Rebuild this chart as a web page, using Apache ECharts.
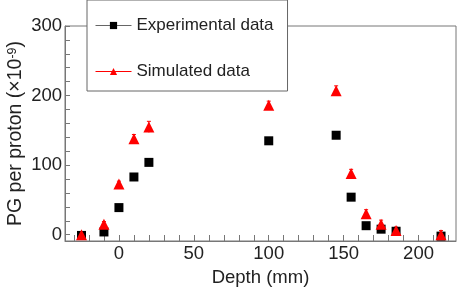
<!DOCTYPE html>
<html>
<head>
<meta charset="utf-8">
<script src="https://cdn.jsdelivr.net/npm/echarts@6/dist/echarts.min.js"></script>
<style>
  html, body { margin: 0; padding: 0; background: #fff; }
  #chart { width: 458px; height: 288px; }
</style>
</head>
<body>
<div id="chart"></div>
<script>
// depth positions (mm)
var depths = [-25, -10, 0, 10, 20, 100, 145, 155, 165, 175, 185, 215];
// PG per proton (x10^-9)
var expValues = [-1, 4, 39, 83, 104, 135, 143, 54, 13, 8, 5, -2];
var expErrors = [2, 2, 2, 3, 3, 3, 4, 3, 2, 2, 2, 2];
var simValues = [0, 15, 73, 138, 155, 186, 207, 88, 30, 15, 6, 0];
var simErrors = [3, 4, 4, 6, 8, 6, 7, 6, 6, 6, 5, 6];
var xLabels = [0, 50, 100, 150, 200];
var xTicks = [-30, -20, -10, 0, 10, 20, 30, 40, 50, 60, 70, 80, 90, 100, 110, 120, 130, 140, 150, 160, 170, 180, 190, 200, 210, 220];
var yLabels = [0, 100, 200, 300];
var yTicks = [0, 20, 40, 60, 80, 100, 120, 140, 160, 180, 200, 220, 240, 260, 280, 300];

var font = 'Liberation Sans, Arial, Helvetica, sans-serif';

function pairs(vals) {
  return depths.map(function (d, i) { return [d, vals[i]]; });
}
function errData(vals, errs) {
  return depths.map(function (d, i) { return [d, vals[i] - errs[i], vals[i] + errs[i]]; });
}
// small vertical error bars
function errorBar(color) {
  return function (params, api) {
    var lo = api.coord([api.value(0), api.value(1)]);
    var hi = api.coord([api.value(0), api.value(2)]);
    return {
      type: 'group',
      children: [
        { type: 'line', shape: { x1: lo[0], y1: lo[1], x2: hi[0], y2: hi[1] }, style: { stroke: color, lineWidth: 1 } },
        { type: 'line', shape: { x1: hi[0] - 2, y1: hi[1], x2: hi[0] + 2, y2: hi[1] }, style: { stroke: color, lineWidth: 1 } }
      ]
    };
  };
}

var chart = echarts.init(document.getElementById('chart'));
var option = {
  animation: false,
  textStyle: { fontFamily: font },
  grid: {
    left: 65, right: 2, top: 26, bottom: 47,
    outerBoundsMode: 'none',
    show: true, borderColor: '#777', borderWidth: 1
  },
  legend: {
    orient: 'vertical',
    left: 87, top: 0,
    padding: [17, 14, 11, 8],
    itemWidth: 36, itemHeight: 9, itemGap: 29,
    backgroundColor: '#fff',
    borderColor: '#666', borderWidth: 1,
    textStyle: { fontSize: 17, color: '#222', fontFamily: font },
    data: [
      { name: 'Experimental data', lineStyle: { width: 1, opacity: 1, color: '#666' } },
      { name: 'Simulated data', lineStyle: { width: 1, opacity: 1, color: '#ff0000' } }
    ]
  },
  xAxis: {
    type: 'value', min: -36, max: 225,
    name: 'Depth (mm)', nameLocation: 'middle', nameGap: 27, nameMoveOverlap: false,
    nameTextStyle: { fontSize: 18.5, color: '#222' },
    axisLine: { onZero: false, lineStyle: { color: '#777' } },
    axisTick: { inside: true, length: 6, customValues: xTicks, lineStyle: { color: '#777' } },
    axisLabel: { customValues: xLabels, fontSize: 18.5, color: '#222', margin: 3 },
    splitLine: { show: false }
  },
  yAxis: {
    type: 'value', min: -9, max: 300,
    name: 'PG per proton (×10{sup|-9})', nameLocation: 'middle', nameGap: 39, nameMoveOverlap: false,
    nameTextStyle: { fontSize: 19.5, color: '#222', rich: { sup: { fontSize: 12.5, verticalAlign: 'top', color: '#222' } } },
    axisLine: { onZero: false, lineStyle: { color: '#777' } },
    axisTick: { inside: true, length: 5, customValues: yTicks, lineStyle: { color: '#777' } },
    axisLabel: { customValues: yLabels, fontSize: 18.5, color: '#222', margin: 3 },
    splitLine: { show: false }
  },
  series: [
    {
      type: 'custom', renderItem: errorBar('#000'), data: errData(expValues, expErrors),
      encode: { x: 0, y: [1, 2] }, silent: true, z: 1
    },
    {
      type: 'custom', renderItem: errorBar('#ff0000'), data: errData(simValues, simErrors),
      encode: { x: 0, y: [1, 2] }, silent: true, z: 1
    },
    {
      name: 'Experimental data', type: 'line', data: pairs(expValues),
      symbol: 'rect', symbolSize: 9, showAllSymbol: true,
      itemStyle: { color: '#000' }, lineStyle: { opacity: 0 }, z: 2
    },
    {
      name: 'Simulated data', type: 'line', data: pairs(simValues),
      symbol: 'triangle', symbolSize: 11, showAllSymbol: true,
      itemStyle: { color: '#ff0000' }, lineStyle: { opacity: 0 }, z: 3
    }
  ]
};
chart.setOption(option);
</script>
</body>
</html>
